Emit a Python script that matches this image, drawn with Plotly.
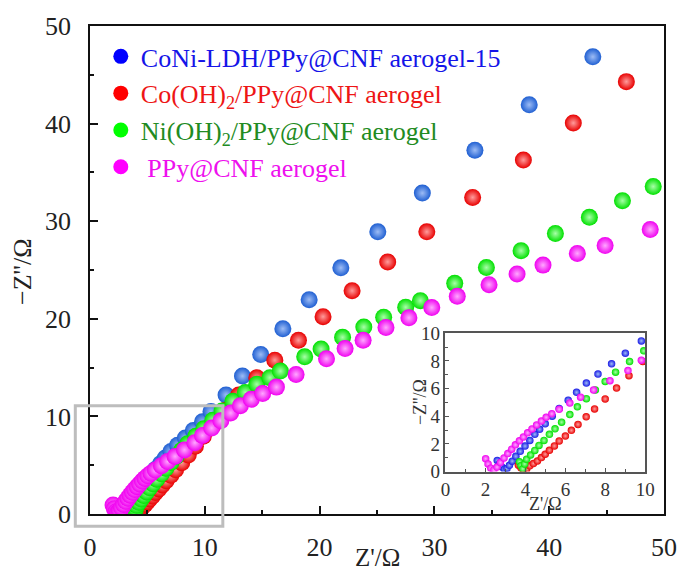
import plotly.graph_objects as go

# ---------------- data (Z' , -Z'') ----------------
coni_x = [2.59, 2.70, 2.82, 2.95, 3.08, 3.20, 3.34, 3.52, 3.74, 3.98, 4.22, 4.47, 4.71, 4.99, 5.34, 5.69,
          6.14, 6.56, 7.05, 7.63, 8.31, 9.00, 9.80, 10.54, 11.85, 13.28, 14.87, 16.80, 19.09, 21.85,
          25.07, 28.95, 33.53, 38.26, 43.80]
coni_y = [0.80, 0.55, 0.33, 0.17, 0.22, 0.45, 0.75, 1.10, 1.46, 1.84, 2.25, 2.69, 3.05, 3.45, 4.00, 4.56,
          5.16, 5.73, 6.40, 7.05, 7.79, 8.56, 9.45, 10.50, 12.20, 14.13, 16.34, 18.98, 21.96, 25.22,
          28.91, 32.88, 37.28, 41.93, 46.84]

coh_x = [3.65, 3.78, 3.90, 4.06, 4.22, 4.40, 4.60, 4.80, 4.99, 5.20, 5.45, 5.69, 6.00, 6.30, 6.63, 7.04,
         7.46, 7.99, 8.56, 9.18, 9.87, 10.70, 11.75, 12.96, 14.53, 16.10, 18.16, 20.30, 22.83, 25.93,
         29.34, 33.33, 37.75, 42.10, 46.72]
coh_y = [0.45, 0.25, 0.08, 0.17, 0.41, 0.58, 0.77, 1.01, 1.25, 1.54, 1.85, 2.21, 2.57, 2.98, 3.41, 3.96,
         4.53, 5.25, 6.04, 6.93, 7.96, 9.10, 10.60, 12.20, 13.97, 15.76, 17.80, 20.22, 22.88, 25.83,
         28.91, 32.44, 36.27, 40.06, 44.30]

nih_x = [3.70, 3.78, 3.87, 3.96, 4.06, 4.26, 4.47, 4.68, 4.93, 5.20, 5.48, 5.81, 6.22, 6.60, 7.05, 7.50,
         7.99, 8.51, 9.21, 9.92, 10.70, 11.50, 12.45, 13.53, 14.53, 15.67, 16.58, 18.70, 20.13, 22.00,
         23.85, 25.58, 27.50, 28.78, 31.77, 34.53, 37.55, 40.54, 43.50, 46.38, 49.06]
nih_y = [0.70, 0.42, 0.20, 0.55, 0.89, 1.20, 1.53, 1.89, 2.25, 2.69, 3.09, 3.57, 4.12, 4.68, 5.27, 5.90,
         6.52, 7.19, 7.96, 8.73, 9.60, 10.55, 11.55, 12.45, 13.29, 13.97, 14.64, 16.10, 16.90, 18.10,
         19.15, 20.17, 21.19, 21.86, 23.63, 25.25, 26.98, 28.74, 30.40, 32.10, 33.55]

ppy_x = [2.01, 2.13, 2.27, 2.42, 2.58, 2.75, 2.93, 3.12, 3.31, 3.50, 3.70, 3.90, 4.11, 4.33, 4.56, 4.80,
         5.04, 5.32, 5.69, 6.22, 6.76, 7.41, 8.23, 9.13, 9.80, 10.60, 11.40, 12.25, 13.10, 14.05, 15.04,
         16.24, 17.95, 20.60, 22.22, 23.79, 25.78, 27.78, 29.77, 31.99, 34.76, 37.20, 39.46, 42.45,
         44.87, 48.80]
ppy_y = [0.93, 0.55, 0.24, 0.12, 0.32, 0.65, 0.98, 1.30, 1.62, 1.93, 2.22, 2.50, 2.80, 3.08, 3.37, 3.65,
         3.92, 4.18, 4.50, 4.95, 5.38, 5.90, 6.57, 7.30, 8.05, 8.80, 9.55, 10.35, 11.10, 11.75, 12.34,
         13.00, 14.30, 15.90, 16.95, 17.80, 19.10, 20.10, 21.15, 22.30, 23.50, 24.60, 25.50, 26.70,
         27.50, 29.15]

series_names = [
    "CoNi-LDH/PPy@CNF aerogel-15<sub> </sub>",
    "Co(OH)<sub>2</sub>/PPy@CNF aerogel",
    "Ni(OH)<sub>2</sub>/PPy@CNF aerogel",
    " PPy@CNF aerogel<sub> </sub>",
]
series_x = [coni_x, coh_x, nih_x, ppy_x]
series_y = [coni_y, coh_y, nih_y, ppy_y]

# styles
sphere_colors = ["#1f5fd2", "#e80000", "#00e000", "#f000f0"]
sphere_hilite = ["#9dbcf5", "#ff9c9c", "#a8ffa8", "#ffa8ff"]
inset_colors = ["#1a1ae6", "#e80000", "#00e000", "#f000f0"]
legend_marker_colors = ["#0000ff", "#ff0000", "#00ff00", "#ff00ff"]
legend_text_colors = ["#1515e8", "#ee1515", "#228b22", "#ee10ee"]

main_x_range = [0, 50]
main_y_range = [0, 50]
inset_range = [0, 10]
zoom_box = (-1.28, 11.57, -1.25, 11.08)  # x0, x1, y0, y1 in main data units

SERIF = "Liberation Serif"

fig = go.Figure()

for i in range(4):
    fig.add_trace(go.Scatter(
        x=series_x[i], y=series_y[i], mode="markers", showlegend=False,
        marker=dict(size=17, color=sphere_colors[i], line=dict(width=0),
                    gradient=dict(type="radial", color=sphere_hilite[i])),
        xaxis="x", yaxis="y"))
    fig.add_trace(go.Scatter(
        x=series_x[i], y=series_y[i], mode="markers", showlegend=False,
        marker=dict(size=7.5, color=inset_colors[i], line=dict(width=0),
                    gradient=dict(type="radial", color=sphere_hilite[i])),
        xaxis="x2", yaxis="y2"))

for i in range(4):
    fig.add_trace(go.Scatter(
        x=[None], y=[None], mode="markers", legendgroup=f"g{i}",
        name=f'<span style="color:{legend_text_colors[i]}">{series_names[i]}</span>',
        marker=dict(size=15, color=legend_marker_colors[i], line=dict(width=0)),
        xaxis="x", yaxis="y"))

L, R, T, B = 90, 14, 26, 57.3
W, H = 689, 574
pw = W - L - R
ph = H - T - B

axis_common = dict(showgrid=False, zeroline=False, showline=True, mirror=True,
                   linecolor="#111111", linewidth=1.6, ticks="inside", ticklen=8,
                   tickwidth=1.5, tickcolor="#111111",
                   tickfont=dict(family=SERIF, size=26, color="#222222"))
minor_common = dict(dtick=5, ticks="inside", ticklen=4, tickwidth=1.5, tickcolor="#111111")

inset_axis = dict(showgrid=False, zeroline=False, showline=True, mirror=True,
                  linecolor="#555555", linewidth=1.5, ticks="inside", ticklen=4,
                  tickcolor="#555555", range=inset_range, dtick=2,
                  minor=dict(dtick=1, ticks="inside", ticklen=2.5, tickcolor="#555555"),
                  tickfont=dict(family=SERIF, size=19, color="#333333"))

# inset domain in paper units
ix0, ix1 = 0.6193, 0.9675
iy0, iy1 = 0.087, 0.3703

fig.update_layout(
    width=W, height=H,
    margin=dict(l=L, r=R, t=T, b=B),
    paper_bgcolor="white", plot_bgcolor="white",
    xaxis=dict(range=main_x_range, dtick=10, tick0=0, minor=minor_common,
               ticklabelstandoff=9, **axis_common),
    yaxis=dict(range=main_y_range, dtick=10, tick0=0, minor=minor_common,
               ticklabelstandoff=12, **axis_common),
    xaxis2=dict(domain=[ix0, ix1], anchor="y2", **inset_axis),
    yaxis2=dict(domain=[iy0, iy1], anchor="x2", ticklabelstandoff=0, **inset_axis),
    legend=dict(x=(101 - L) / pw, y=1 - (33 - T) / ph,
                xanchor="left", yanchor="top", bgcolor="rgba(0,0,0,0)",
                font=dict(family=SERIF, size=26), tracegroupgap=0,
                itemclick=False),
    showlegend=True,
)

def xp(v):
    return (v - main_x_range[0]) / (main_x_range[1] - main_x_range[0])

def yp(v):
    return (v - main_y_range[0]) / (main_y_range[1] - main_y_range[0])

fig.add_shape(type="rect", xref="paper", yref="paper",
              x0=xp(zoom_box[0]), x1=xp(zoom_box[1]), y0=yp(zoom_box[2]), y1=yp(zoom_box[3]),
              line=dict(color="#bdbdbd", width=3), fillcolor="rgba(0,0,0,0)", layer="above")

# main axis titles
fig.add_annotation(text="Z'/Ω", xref="paper", yref="paper", x=0.5,
                   y=-(560 - (H - B)) / ph, showarrow=False,
                   font=dict(family=SERIF, size=25, color="#222222"),
                   xanchor="center", yanchor="middle")
fig.add_annotation(text="−Z''/Ω", xref="paper", yref="paper", x=(21 - L) / pw,
                   y=((H - B) - 273) / ph, showarrow=False, textangle=-90,
                   font=dict(family=SERIF, size=26, color="#222222"),
                   xanchor="center", yanchor="middle")

# inset axis titles
fig.add_annotation(text="Z'/Ω", xref="paper", yref="paper", x=(ix0 + ix1) / 2,
                   y=-(507 - (H - B)) / ph, showarrow=False,
                   font=dict(family=SERIF, size=18, color="#333333"),
                   xanchor="center", yanchor="middle")
fig.add_annotation(text="−Z''/Ω", xref="paper", yref="paper", x=(427 - L) / pw,
                   y=(iy0 + iy1) / 2, showarrow=False, textangle=-90,
                   font=dict(family=SERIF, size=18, color="#333333"),
                   xanchor="center", yanchor="middle")

fig.write_html("out.html")
